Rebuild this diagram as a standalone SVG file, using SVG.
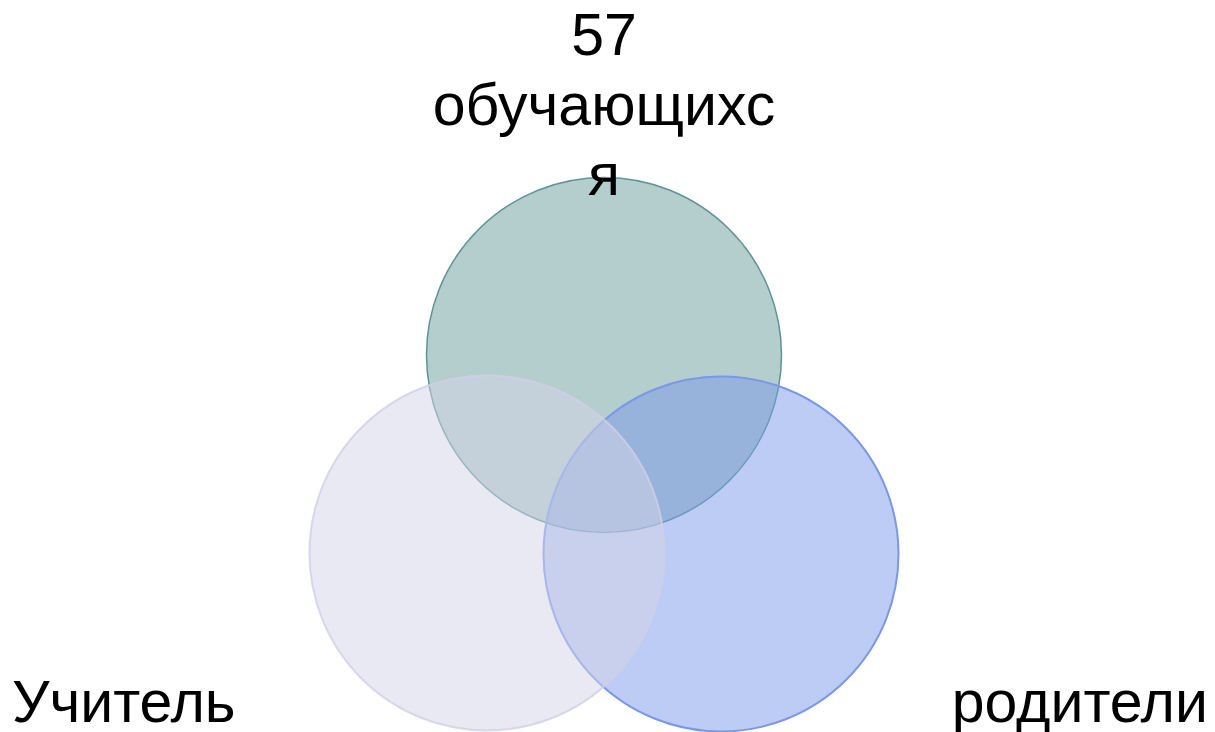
<svg xmlns="http://www.w3.org/2000/svg" width="1215" height="732" viewBox="0 0 1215 732">
<style>
  .lbl { font-family: "Liberation Sans", Arial, sans-serif; font-size: 59px; fill: #000; }
</style>
<rect width="1215" height="732" fill="#ffffff"/>
<g id="node-students">
  <circle cx="604" cy="355" r="177.5" fill="#6b9c9c" fill-opacity="0.51" stroke="#5f9494" stroke-width="1.5"/>
</g>
<g id="node-parents">
  <circle cx="721" cy="554" r="177.5" fill="#7c9ae9" fill-opacity="0.51" stroke="#7b97e8" stroke-width="2"/>
</g>
<g id="node-teacher">
  <circle cx="487" cy="553" r="177.5" fill="#d4d4e8" fill-opacity="0.51" stroke="#d0d0e6" stroke-width="2" stroke-opacity="0.8"/>
</g>
<g id="connectors"></g>
<g id="labels">
  <text class="lbl" x="604" y="55" text-anchor="middle">57</text>
  <text class="lbl" x="604" y="125" text-anchor="middle">обучающихс</text>
  <text class="lbl" x="604" y="195" text-anchor="middle">я</text>
  <text class="lbl" x="12" y="722">Учитель</text>
  <text class="lbl" x="1208" y="722" text-anchor="end">родители</text>
</g>
</svg>
